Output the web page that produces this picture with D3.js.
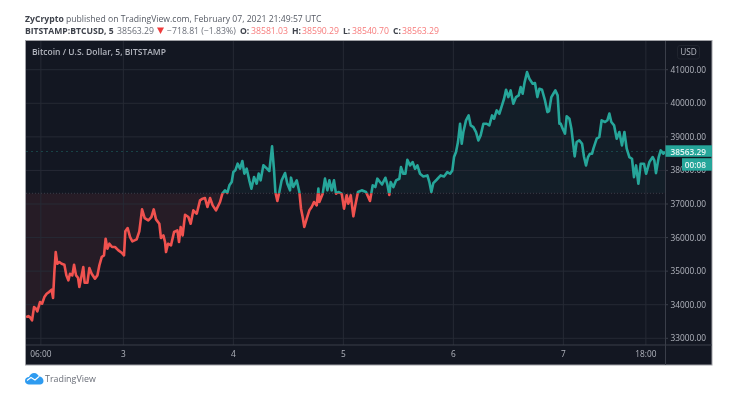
<!DOCTYPE html>
<html><head><meta charset="utf-8">
<script src="https://cdnjs.cloudflare.com/ajax/libs/d3/7.8.5/d3.min.js"></script>
<style>html,body{margin:0;padding:0;background:#fff}svg{display:block;filter:blur(0.5px)}text{font-family:"Open Sans",sans-serif}</style>
</head><body><svg id="c" width="735" height="395"></svg>
<script>
const days=[2.115,2.136,2.152,2.170,2.188,2.206,2.218,2.242,2.261,2.282,2.303,2.324,2.348,2.361,2.373,2.385,2.400,2.418,2.439,2.464,2.482,2.500,2.515,2.536,2.552,2.570,2.588,2.600,2.618,2.636,2.648,2.673,2.691,2.712,2.742,2.764,2.782,2.803,2.824,2.839,2.855,2.873,2.897,2.924,2.955,2.985,3.006,3.018,3.039,3.061,3.082,3.121,3.145,3.170,3.194,3.227,3.255,3.276,3.297,3.327,3.342,3.364,3.379,3.388,3.406,3.433,3.461,3.491,3.506,3.521,3.539,3.561,3.591,3.612,3.636,3.667,3.697,3.721,3.742,3.764,3.788,3.812,3.842,
3.879,3.900,3.924,3.945,3.964,3.985,4.000,4.018,4.039,4.061,4.082,4.100,4.121,4.145,4.164,4.188,4.212,4.230,4.248,4.273,4.297,4.327,4.352,4.370,4.382,4.400,4.418,4.439,4.470,4.491,4.515,4.524,4.545,4.576,4.600,4.615,4.630,4.645,4.667,4.691,4.712,4.733,4.758,4.773,4.782,4.812,4.833,4.855,4.873,4.894,4.915,4.933,4.955,4.985,5.006,5.030,5.045,5.067,5.091,5.109,5.133,5.167,5.206,5.242,5.267,5.291,5.309,5.333,
5.352,5.382,5.400,5.418,5.430,5.455,5.479,5.509,5.524,5.545,5.564,5.582,5.606,5.630,5.652,5.673,5.697,5.727,5.764,5.782,5.800,5.818,5.848,5.885,5.915,5.945,5.970,5.991,6.006,6.024,6.042,6.061,6.076,6.091,6.115,6.139,6.158,6.182,6.206,6.227,6.248,6.273,6.303,6.327,6.352,6.370,6.394,6.418,6.442,6.461,6.479,6.500,6.521,6.545,6.570,6.594,6.612,6.630,6.648,6.670,6.691,6.721,6.742,6.764,6.782,6.806,6.833,6.855,6.870,6.891,6.909,6.927,6.948,
6.964,6.976,6.994,7.015,7.030,7.055,7.073,7.091,7.103,7.121,7.145,7.170,7.188,7.206,7.224,7.242,7.261,7.273,7.303,7.327,7.348,7.379,7.400,7.418,7.436,7.461,7.485,7.509,7.533,7.555,7.576,7.600,7.624,7.642,7.661,7.682,7.703,7.733,7.752,7.782,7.812,7.827,7.842,7.867,7.885,7.909,7.924];
const prices=[33633,33662,33623,33533,33930,33881,33801,34079,34030,34228,34328,34377,34447,34199,34973,35569,35221,35271,35221,35192,34874,34725,34923,34874,35192,34874,34804,34526,34824,35122,34655,34655,35092,34923,34775,34874,35172,35420,35470,35966,35668,35817,35718,35718,35619,35549,35470,36185,36284,36016,35887,35946,36185,36840,36582,36512,36612,36840,36542,36413,35986,36065,35867,35569,35817,35768,36165,36214,35867,36314,36065,36681,36612,36413,36810,36711,37108,37158,37178,36910,37178,36959,36810,
37060,37308,37407,37328,37556,37655,37953,38003,38202,38053,38281,37904,38053,37705,37457,37804,37606,37904,37705,38152,38082,37983,38718,38003,37357,37089,37357,37705,37923,37606,37407,37784,37506,37705,37357,36861,36613,36315,36563,36811,36911,37060,36960,37457,37060,37308,37755,37407,37705,37407,37705,37308,37357,37308,36861,37258,37010,37258,36633,36960,37357,37407,37357,37089,37556,37506,37755,37655,
37583,37782,37583,37270,37652,37504,37702,37752,38099,37901,37901,38318,38149,38248,38050,38149,37901,37821,37851,37652,37355,37623,37722,37851,37821,37950,37901,38000,38397,38546,38844,39390,38794,39142,39490,39638,39341,39291,39142,38894,39043,39390,39390,39341,39638,39539,39787,39688,39936,40135,40403,40185,40383,39986,40185,40234,40483,40284,40631,40929,40731,40582,40602,40185,40433,40403,40085,39738,39768,40185,40284,40383,40234,
39393,39393,39244,39095,39612,39542,39244,38746,38418,38846,38896,38796,38398,38149,38398,38498,38498,38647,38945,38995,39493,39443,39493,39692,39443,39343,38945,39144,38746,39144,38647,38398,38348,37801,38149,37602,38199,38199,37900,38249,38398,38298,37920,38398,38597,38498,38563];
const priceTicks=[33000,34000,35000,36000,37000,38000,39000,40000,41000];
const timeTicks=[2.25,3,4,5,6,7,7.75];
const timeLabels=["06:00","3","4","5","6","7","18:00"];
const baseline=37319, lastPrice=38563.29;
const ohlc=[["O:","38581.03",240,251],["H:","38590.29",292,302],["L:","38540.70",343,352],["C:","38563.29",393,402]];

const L=26,R=665,AB=345,T=41,B=365,RR=712;
const x=d3.scaleLinear().domain([2.115,7.924]).range([L,R]);
const y=d3.scaleLinear().domain([33000,41000]).range([338.3,69.7]);
const svg=d3.select("#c");
const up="#26a69a",dn="#f0524f",txt="#b2b5be",grid="#262a35";
const pts=days.map((d,i)=>[d,prices[i]]);
const defs=svg.append("defs");
defs.append("clipPath").attr("id","up").append("rect").attr("x",L).attr("y",T).attr("width",R-L).attr("height",y(baseline)-T);
defs.append("clipPath").attr("id","dn").append("rect").attr("x",L).attr("y",y(baseline)).attr("width",R-L).attr("height",AB-y(baseline));

svg.append("rect").attr("x",25.5).attr("y",40.5).attr("width",RR-25.5).attr("height",B-40.5).attr("fill","#131722").attr("stroke","#a0a1a6");

const area=d3.area().x(d=>x(d[0])).y0(y(baseline)).y1(d=>y(d[1]));
const line=d3.line().x(d=>x(d[0])).y(d=>y(d[1]));
svg.append("path").attr("d",area(pts)).attr("fill",up).attr("fill-opacity",.055).attr("clip-path","url(#up)");
svg.append("path").attr("d",area(pts)).attr("fill",dn).attr("fill-opacity",.085).attr("clip-path","url(#dn)");

svg.append("g").selectAll("line").data(priceTicks).join("line").attr("x1",L).attr("x2",R).attr("y1",d=>y(d)).attr("y2",d=>y(d)).attr("stroke",grid);
svg.append("g").selectAll("line").data(timeTicks).join("line").attr("x1",d=>x(d)).attr("x2",d=>x(d)).attr("y1",T).attr("y2",AB).attr("stroke",grid);

svg.append("line").attr("x1",L).attr("x2",R).attr("y1",y(baseline)).attr("y2",y(baseline)).attr("stroke","#3a3e49").attr("stroke-dasharray","1 2");
svg.append("line").attr("x1",L).attr("x2",R).attr("y1",y(lastPrice)).attr("y2",y(lastPrice)).attr("stroke",up).attr("stroke-opacity",.3).attr("stroke-dasharray","2 3");

svg.append("path").attr("d",line(pts)).attr("fill","none").attr("stroke",up).attr("stroke-width",2.6).attr("stroke-linejoin","round").attr("clip-path","url(#up)");
svg.append("path").attr("d",line(pts)).attr("fill","none").attr("stroke",dn).attr("stroke-width",2.6).attr("stroke-linejoin","round").attr("clip-path","url(#dn)");

// axis separators
svg.append("line").attr("x1",R+.5).attr("x2",R+.5).attr("y1",T).attr("y2",B).attr("stroke","#3a3e49");
svg.append("line").attr("x1",L).attr("x2",RR).attr("y1",AB).attr("y2",AB).attr("stroke","#3a3e49");

// axes
svg.append("g").selectAll("line").data(priceTicks).join("line").attr("x1",R).attr("x2",R+3).attr("y1",d=>y(d)).attr("y2",d=>y(d)).attr("stroke","#3a3e49");
svg.append("g").selectAll("text").data(priceTicks).join("text").attr("x",706).attr("y",d=>y(d)+3).attr("text-anchor","end").attr("font-size",8.3).attr("fill",txt).text(d=>d.toFixed(2));
svg.append("g").selectAll("text").data(timeTicks).join("text").attr("x",d=>x(d)).attr("y",356.5).attr("text-anchor","middle").attr("font-size",8.3).attr("fill",txt).text((d,i)=>timeLabels[i]);

// price labels
svg.append("rect").attr("x",R+.5).attr("y",145.3).attr("width",RR-R-.5).attr("height",11.5).attr("fill",up);
svg.append("rect").attr("x",682).attr("y",158.2).attr("width",30).attr("height",12.5).attr("fill",up);
svg.append("text").attr("x",706).attr("y",y(lastPrice)+3).attr("text-anchor","end").attr("font-size",8.3).attr("fill","#e8f4f3").attr("font-weight",600).text(lastPrice.toFixed(2));
svg.append("text").attr("x",706).attr("y",167.5).attr("text-anchor","end").attr("font-size",8.3).attr("fill","#e8f4f3").attr("font-weight",600).text("00:08");

// currency
svg.append("rect").attr("x",677.5).attr("y",45.5).attr("width",22).attr("height",13.5).attr("rx",2.5).attr("fill","none").attr("stroke","#20242e");
svg.append("text").attr("x",688.5).attr("y",55).attr("text-anchor","middle").attr("font-size",8.3).attr("fill",txt).text("USD");

// title
svg.append("text").attr("x",32).attr("y",55).attr("font-size",8.5).attr("fill",txt).attr("font-weight",600).text("Bitcoin / U.S. Dollar, 5, BITSTAMP");

// header
const hdr=svg.append("text").attr("x",25).attr("y",21.5).attr("font-size",8.65).attr("fill","#555a64");
hdr.append("tspan").attr("font-weight",700).attr("fill","#3f434c").text("ZyCrypto");
hdr.append("tspan").text(" published on TradingView.com, February 07, 2021 21:49:57 UTC");
const rowY=33.5;
svg.append("text").attr("x",25).attr("y",rowY).attr("font-size",8.6).attr("font-weight",700).attr("fill","#3f434c").text("BITSTAMP:BTCUSD, 5");
svg.append("text").attr("x",117).attr("y",rowY).attr("font-size",8.7).attr("fill","#6a6e78").text("38563.29");
svg.append("path").attr("d","M157,27.5L164,27.5L160.5,34Z").attr("fill","#ef3b3b");
svg.append("text").attr("x",167).attr("y",rowY).attr("font-size",8.7).attr("fill","#6a6e78").text("\u2212718.81 (\u22121.83%)");
ohlc.forEach(o=>{
  svg.append("text").attr("x",o[2]).attr("y",rowY).attr("font-size",8.6).attr("font-weight",700).attr("fill","#3f434c").text(o[0]);
  svg.append("text").attr("x",o[3]).attr("y",rowY).attr("font-size",8.7).attr("fill","#f77c7c").text(o[1]);
});

// logo
svg.append("path").attr("d","M25,381 C25,378 27,377 29,377 C30,374.5 32,373 34,373 C37,373 38,375 39,376.5 C41.5,376.5 43.5,378.5 43.5,381 C43.5,383 42,384.5 40,384.5 L29,384.5 C27,384.5 25,383 25,381Z").attr("fill","#2e9bf0");
svg.append("path").attr("d","M27,380.5 L31,377.5 L35,380 L39,376.5").attr("fill","none").attr("stroke","#fff").attr("stroke-width",1.1);
svg.append("text").attr("x",45).attr("y",381.5).attr("font-size",8.9).attr("fill","#6a6e78").text("TradingView");
</script></body></html>
